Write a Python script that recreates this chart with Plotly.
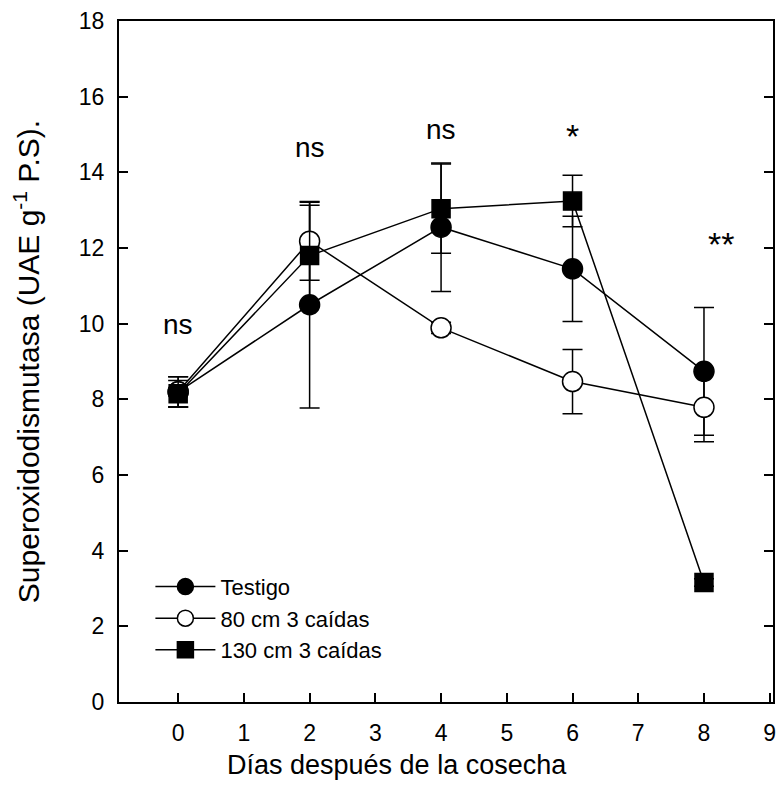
import plotly.graph_objects as go

days = [0, 2, 4, 6, 8]
testigo = [8.2, 10.5, 12.55, 11.45, 8.74]
testigo_err = [0.4, 2.73, 1.7, 1.39, 1.69]
cm80 = [8.2, 12.18, 9.89, 8.47, 7.79]
cm80_err = [0.4, 1.03, 0.15, 0.85, 0.91]
cm130 = [8.15, 11.8, 13.04, 13.24, 3.16]
cm130_err = [0.35, 1.33, 1.18, 0.68, 0.1]

sig_labels = ["ns", "ns", "ns", "*", "**"]
sig_x = [0, 2, 4, 6, 8.26]
sig_y = [9.97, 14.66, 15.13, 14.95, 12.1]
sig_size = [28, 28, 28, 34, 34]

FONT = "Liberation Sans, Arial, sans-serif"

fig = go.Figure()
series = [
    ("Testigo", testigo, testigo_err, "circle", "black"),
    ("80 cm 3 caídas", cm80, cm80_err, "circle", "white"),
    ("130 cm 3 caídas", cm130, cm130_err, "square", "black"),
]
for name, y, e, sym, fill in series:
    fig.add_trace(go.Scatter(
        x=days, y=y, name=name, mode="lines+markers",
        line=dict(color="black", width=1.5),
        marker=dict(symbol=sym, size=20 if sym == "circle" else 18, color=fill,
                    line=dict(color="black", width=1.5)),
        error_y=dict(type="data", array=e, visible=True, color="black",
                     thickness=1.5, width=10),
    ))

for t, x, y, s in zip(sig_labels, sig_x, sig_y, sig_size):
    fig.add_annotation(x=x, y=y, text=t, showarrow=False,
                       font=dict(size=s, color="black", family=FONT))

fig.add_annotation(xref="paper", yref="paper", x=(398 - 119) / (776 - 119),
                   y=(702 - 765) / 682, yanchor="middle",
                   text="Días después de la cosecha", showarrow=False,
                   font=dict(size=27, color="black", family=FONT))

fig.update_layout(
    width=784, height=792,
    margin=dict(l=119, r=8, t=20, b=90),
    paper_bgcolor="white", plot_bgcolor="white",
    font=dict(family=FONT, color="black", size=23),
    showlegend=True,
    legend=dict(x=0.048, y=0.2, xanchor="left", yanchor="top",
                bgcolor="rgba(0,0,0,0)", font=dict(size=22, family=FONT),
                tracegroupgap=0, itemwidth=60),
    xaxis=dict(range=[-0.9, 9.05], tickmode="array", tickvals=list(range(10)),
               ticks="inside", ticklen=9, tickwidth=1.5, tickcolor="black",
               showline=True, linecolor="black", linewidth=2, mirror=True,
               showgrid=False, zeroline=False, tickfont=dict(size=23),
               ticklabelstandoff=9),
    yaxis=dict(range=[0, 18], tickmode="array", tickvals=list(range(0, 19, 2)),
               ticks="inside", ticklen=9, tickwidth=1.5, tickcolor="black",
               showline=True, linecolor="black", linewidth=2, mirror="ticks",
               showgrid=False, zeroline=False, tickfont=dict(size=23),
               ticklabelstandoff=8,
               title=dict(text="Superoxidodismutasa (UAE g<sup>-1</sup> P.S).",
                          font=dict(size=30), standoff=30)),
)

fig.write_html("out.html")
